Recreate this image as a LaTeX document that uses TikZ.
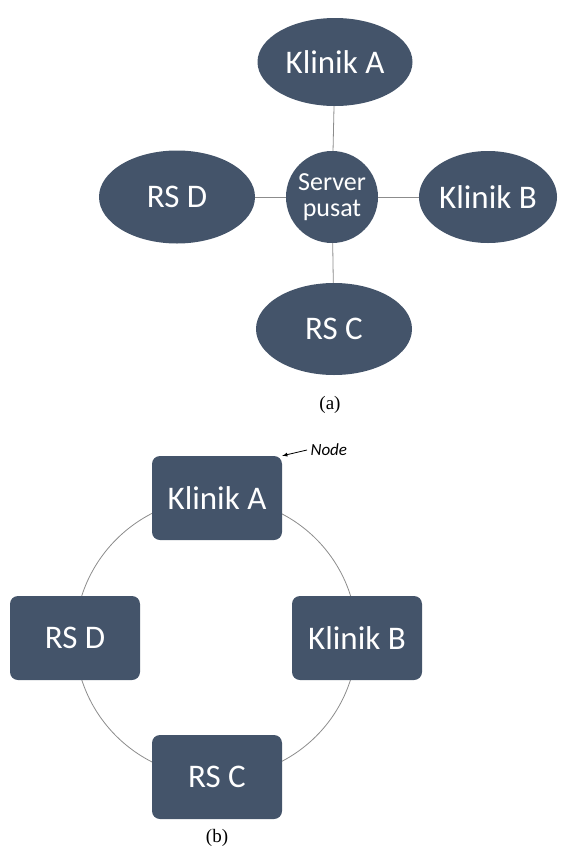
\documentclass[tikz,border=0pt]{standalone}
\usepackage{fontspec}
\setmainfont{Carlito}
\newfontfamily\capfont{Liberation Serif}
\usetikzlibrary{shapes.geometric,arrows,backgrounds}
\definecolor{slate}{HTML}{44546A}
\definecolor{wire}{HTML}{8C8C8C}
\tikzset{
  site/.style={ellipse, fill=slate, text=white, inner sep=0pt, font=\fontsize{33}{36}\selectfont},
  hub/.style={circle, fill=slate, text=white, inner sep=0pt, minimum size=92pt, align=center, font=\fontsize{26}{30}\selectfont},
  box/.style={rectangle, rounded corners=8pt, fill=slate, text=white, minimum width=130pt, minimum height=84pt, font=\fontsize{33}{36}\selectfont},
  wire/.style={draw=wire, line width=0.8pt},
  caption/.style={font=\capfont\fontsize{19}{22}\selectfont}
}

\begin{document}
\begin{tikzpicture}[x=1pt,y=-1pt]
				\useasboundingbox (0,0) rectangle (570,852);
				% (a) star
				\node[hub] (srv) at (332, 197) {Server\\[-4pt]pusat};
				\node[site, minimum width=155pt, minimum height=88pt] (ka) at (335, 62) {Klinik A};
				\node[site, minimum width=130pt, minimum height=92pt] (kb) at (488, 197) {Klinik B};
				\node[site, minimum width=156pt, minimum height=93pt] (rd) at (177, 197) {RS D};
				\node[site, minimum width=156pt, minimum height=92pt] (rc) at (334, 329) {RS C};
				\draw[wire] (srv) -- (ka);
				\draw[wire] (srv) -- (kb);
				\draw[wire] (srv) -- (rd);
				\draw[wire] (srv) -- (rc);
				\node[caption] (capa) at (330, 405) {(a)};
				% (b) ring
				\node[box] (ka2) at (217, 498) {Klinik A};
				\node[box] (kb2) at (357, 638) {Klinik B};
				\node[box] (rc2) at (217, 777) {RS C};
				\node[box] (rd2) at (75, 638) {RS D};
				\begin{pgfonlayer}{background}
				\draw[wire] (ka2.center) to[bend left=45] (kb2.center);
				\draw[wire] (kb2.center) to[bend left=45] (rc2.center);
				\draw[wire] (rc2.center) to[bend left=45] (rd2.center);
				\draw[wire] (rd2.center) to[bend left=45] (ka2.center);
				\end{pgfonlayer}
				\node[font=\itshape\fontsize{17}{20}\selectfont, anchor=west] (lbl) at (307, 450) {Node};
				\draw[-latex, line width=0.8pt] (lbl.west) to (ka2.north east);
				\node[caption] (capb) at (217, 838) {(b)};
			\end{tikzpicture}
\end{document}
